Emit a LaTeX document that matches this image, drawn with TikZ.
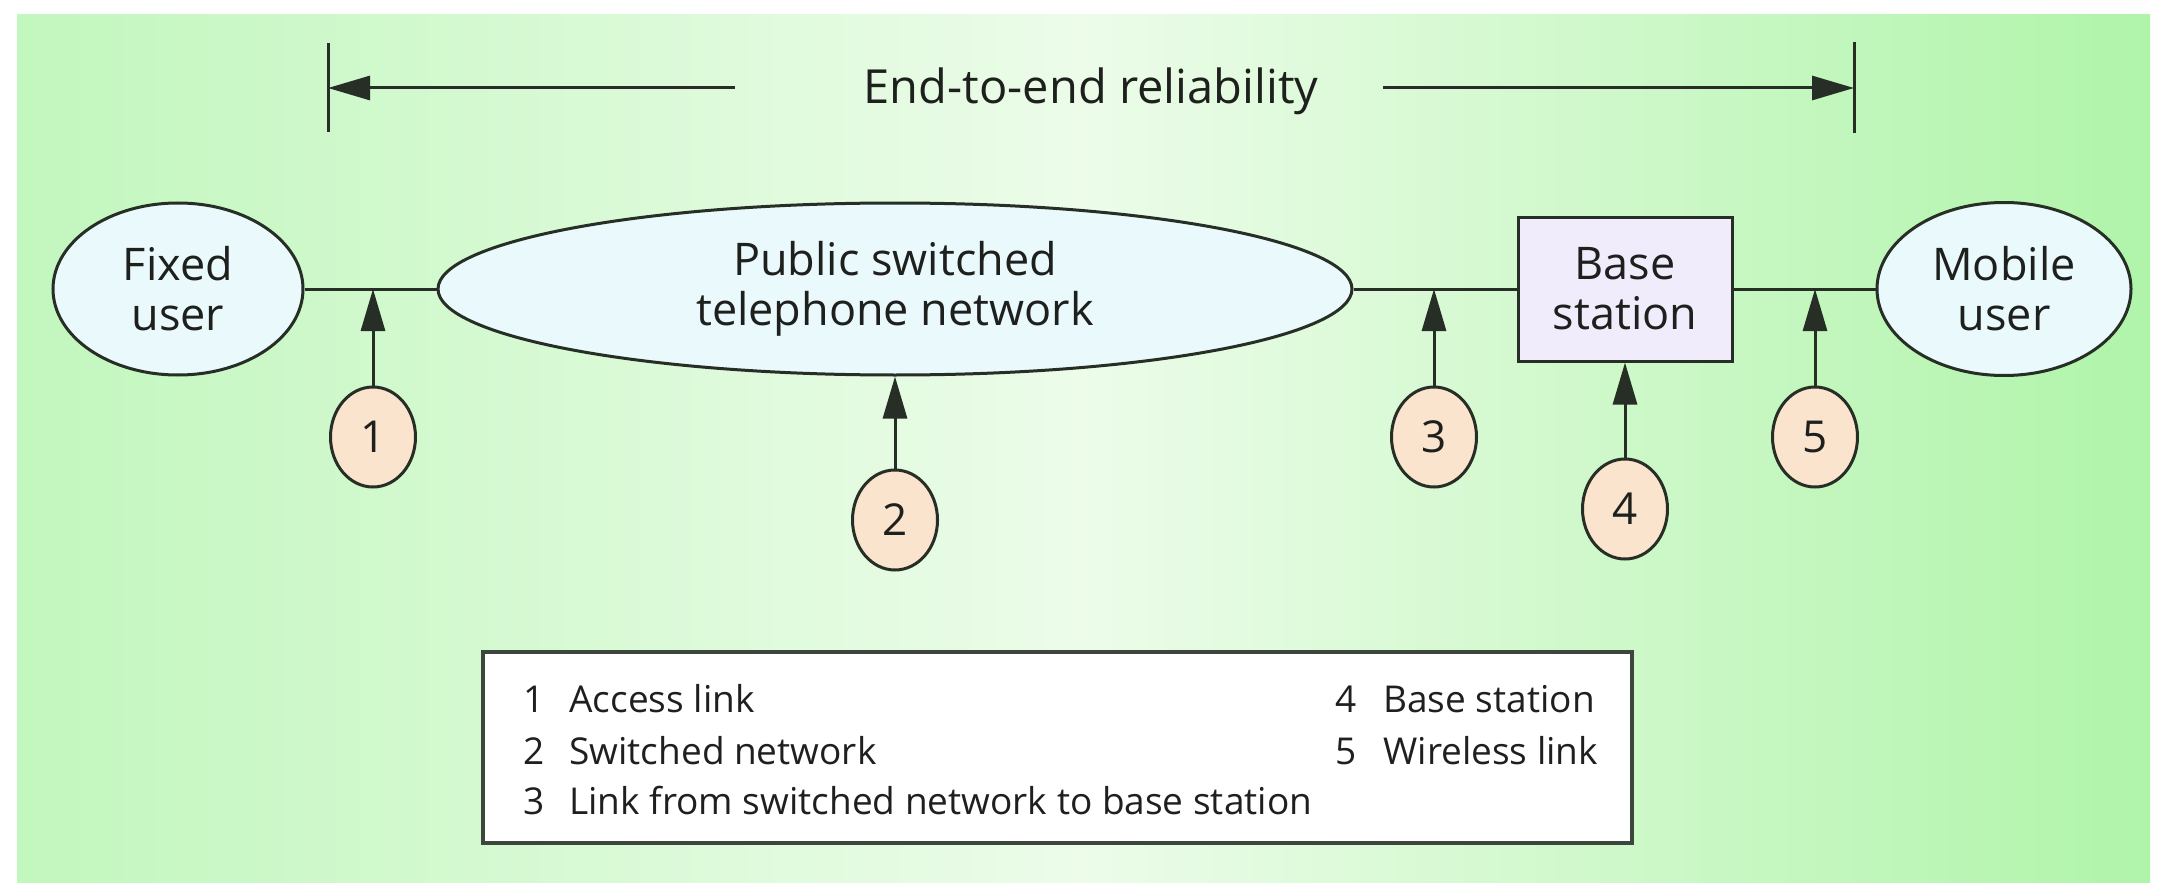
\documentclass[tikz,border=0pt]{standalone}
\usepackage{fontspec}
\setmainfont{Open Sans}
\usetikzlibrary{shapes.geometric,arrows.meta}
\definecolor{bgL}{RGB}{194,247,190}
\definecolor{bgM}{RGB}{236,252,233}
\definecolor{bgR}{RGB}{176,244,170}
\definecolor{lc}{RGB}{38,46,38}
\definecolor{ellfill}{RGB}{234,249,251}
\definecolor{bsfill}{RGB}{241,236,251}
\definecolor{numfill}{RGB}{251,228,206}
\definecolor{lgc}{RGB}{60,70,60}
\definecolor{tc}{RGB}{30,32,30}
\newcommand\mainfs{\fontsize{22.5}{25}\selectfont}
\newcommand\titlefs{\fontsize{23.5}{25}\selectfont}
\newcommand\numfs{\fontsize{22}{25}\selectfont}
\newcommand\legfs{\fontsize{18.5}{25.5}\selectfont}
\tikzset{
  ln/.style={line width=1.5pt, draw=lc},
  arr/.style={line width=1.5pt, draw=lc, -{Triangle[length=21pt,width=12pt]}},
  usr/.style={ellipse, draw=lc, line width=1.5pt, fill=ellfill, inner sep=0pt, align=center, font=\mainfs, text=tc},
  bsbox/.style={rectangle, draw=lc, line width=1.5pt, fill=bsfill, inner sep=0pt, align=center, font=\mainfs, text=tc},
  numb/.style={ellipse, draw=lc, line width=1.5pt, fill=numfill, minimum width=42.5pt, minimum height=50pt, inner sep=0pt, font=\numfs, text=tc},
  legbox/.style={rectangle, draw=lgc, line width=2pt, fill=white, inner sep=0pt},
  legtxt/.style={anchor=base west, inner sep=0pt, font=\legfs, text=tc},
}
\begin{document}
\begin{tikzpicture}[x=0.5pt,y=-0.5pt]
\useasboundingbox (0,0) rectangle (2159,883);
\fill[white] (0,0) rectangle (2159,883);
\shade[left color=bgL, right color=bgR, middle color=bgM] (17,15) rectangle (2150,883);

% top bracket
\coordinate (tla) at (328,43);
\coordinate (tlb) at (328,132);
\coordinate (tra) at (1854,42);
\coordinate (trb) at (1854,133);
\coordinate (tl) at (328,88);
\coordinate (tr) at (1854,88);
\coordinate (la) at (735,88);
\coordinate (ra) at (1383,88);
\draw[ln] (tla) -- (tlb);
\draw[ln] (tra) -- (trb);
\draw[arr] (la) -- (tl);
\draw[arr] (ra) -- (tr);
\node[font=\titlefs, inner sep=0pt, anchor=base, text=tc] (title) at (1091,104) {End-to-end reliability};

% main nodes
\node[usr, minimum width=125pt, minimum height=86pt] (fu) at (178,289) {Fixed\\user};
\node[usr, minimum width=457pt, minimum height=86pt] (pstn) at (895,289) {Public switched\\telephone network};
\node[bsbox, minimum width=107pt, minimum height=72pt] (bs) at (1625,289) {Base\\station};
\node[usr, minimum width=127pt, minimum height=86.5pt] (mu) at (2004,289) {Mobile\\user};

\draw[ln] (fu.east) -- (pstn.west);
\draw[ln] (pstn.east) -- (bs.west);
\draw[ln] (bs.east) -- (mu.west);

% numbered markers
\node[numb] (n1) at (373,437) {1};
\node[numb] (n2) at (895,520) {2};
\node[numb] (n3) at (1434,437) {3};
\node[numb] (n4) at (1625,509) {4};
\node[numb] (n5) at (1815,437) {5};

\draw[arr] (n1.north) -- (n1.north |- fu.east);
\draw[arr] (n2.north) -- (pstn.south);
\draw[arr] (n3.north) -- (n3.north |- bs.west);
\draw[arr] (n4.north) -- (bs.south);
\draw[arr] (n5.north) -- (n5.north |- mu.west);

% legend
\node[legbox, minimum width=574.5pt, minimum height=95.5pt] (legend) at (1057.5,747.5) {};
\node[legtxt] (k1) at (523,712) {1};
\node[legtxt] (t1) at (569,712) {Access link};
\node[legtxt] (k2) at (523,764) {2};
\node[legtxt] (t2) at (569,764) {Switched network};
\node[legtxt] (k3) at (523,814) {3};
\node[legtxt] (t3) at (569,814) {Link from switched network to base station};
\node[legtxt] (k4) at (1335,712) {4};
\node[legtxt] (t4) at (1383,712) {Base station};
\node[legtxt] (k5) at (1335,764) {5};
\node[legtxt] (t5) at (1383,764) {Wireless link};
\end{tikzpicture}
\end{document}
